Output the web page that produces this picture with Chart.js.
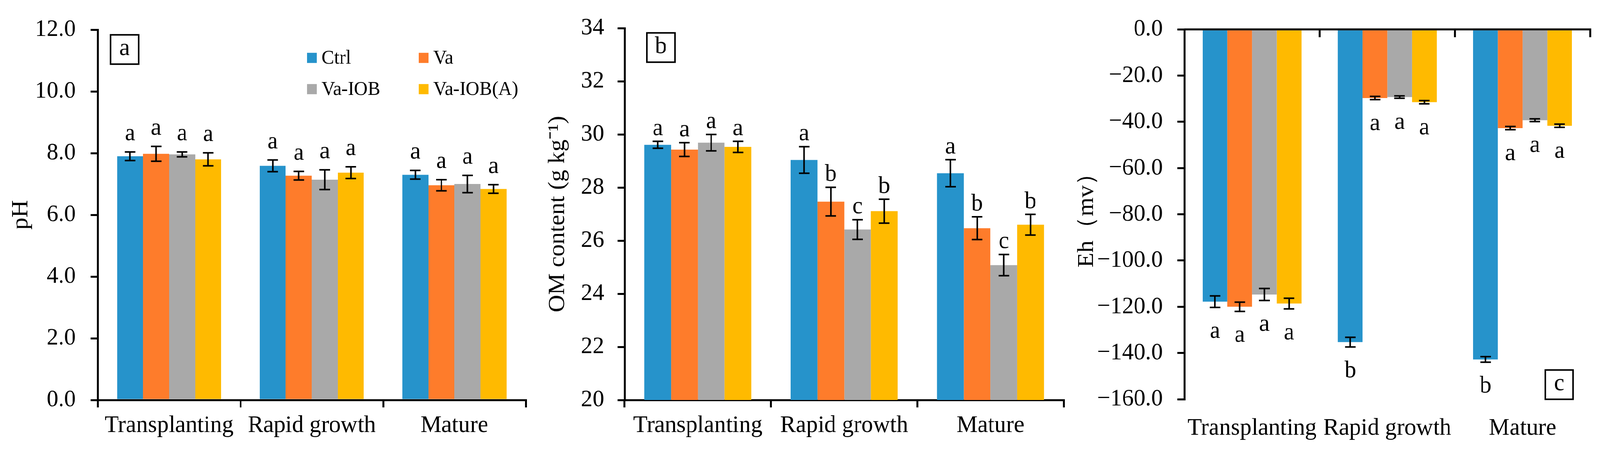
<!DOCTYPE html>
<html>
<head>
<meta charset="utf-8">
<script src="https://cdn.jsdelivr.net/npm/chart.js@4.4.1/dist/chart.umd.min.js"></script>
<style>
  html, body { margin: 0; padding: 0; background: #fff; overflow: hidden; }
  #wrap { position: relative; width: 4239px; height: 1152px; overflow: hidden; transform-origin: 0 0; }
  .panel { position: absolute; top: 0; height: 1152px; }
</style>
</head>
<body>
<div id="wrap">
  <div class="panel" style="left:0;width:1420px"><canvas id="phChart"></canvas></div>
  <div class="panel" style="left:1420px;width:1420px"><canvas id="omChart"></canvas></div>
  <div class="panel" style="left:2840px;width:1399px"><canvas id="ehChart"></canvas></div>
</div>
<script>
// ---- data (rows = treatment, columns = stage) ----
const stages     = ['Transplanting', 'Rapid growth', 'Mature'];
const treatments = ['Ctrl', 'Va', 'Va-IOB', 'Va-IOB(A)'];
const colors     = ['#2693CB', '#FE7C2B', '#A9A9A9', '#FFBA00'];

const phMean = [[7.90, 7.59, 7.30], [7.98, 7.27, 6.96], [7.96, 7.14, 7.00], [7.80, 7.37, 6.84]];
const phErr  = [[0.14, 0.19, 0.14], [0.24, 0.14, 0.18], [0.08, 0.32, 0.28], [0.21, 0.19, 0.14]];
const phSig  = [['a', 'a', 'a'], ['a', 'a', 'a'], ['a', 'a', 'a'], ['a', 'a', 'a']];
const phTicks = [0, 2, 4, 6, 8, 10, 12];

const omMean = [[29.61, 29.04, 28.54], [29.43, 27.47, 26.47], [29.69, 26.42, 25.08], [29.53, 27.11, 26.60]];
const omErr  = [[0.13, 0.50, 0.51], [0.26, 0.54, 0.43], [0.31, 0.37, 0.40], [0.21, 0.45, 0.39]];
const omSig  = [['a', 'a', 'a'], ['a', 'b', 'b'], ['a', 'c', 'c'], ['a', 'b', 'b']];
const omTicks = [20, 22, 24, 26, 28, 30, 32, 34];

const ehMean = [[-117.8, -135.3, -142.8], [-120.0, -29.7, -42.7], [-114.7, -29.3, -39.3], [-118.6, -31.5, -41.7]];
const ehErr  = [[2.5, 2.1, 1.2], [2.0, 0.7, 0.7], [2.6, 0.5, 0.6], [2.3, 0.7, 0.7]];
const ehSig  = [['a', 'b', 'b'], ['a', 'a', 'a'], ['a', 'a', 'a'], ['a', 'a', 'a']];
const ehTicks = [-160, -140, -120, -100, -80, -60, -40, -20, 0];

// the window can be narrower than 4239px; stretch the layout to fill it
const sx = window.innerWidth / 4239, sy = window.innerHeight / 1152;
document.getElementById('wrap').style.transform = 'scale(' + sx + ',' + sy + ')';

const FONT = '"Liberation Serif", "Times New Roman", serif';
Chart.defaults.font.family = FONT;
Chart.defaults.font.size = 62;
Chart.defaults.color = '#000';

// error bars + significance letters
const errBarPlugin = {
  id: 'errBars',
  afterDatasetsDraw(chart, args, opts) {
    const {ctx} = chart;
    const y = chart.scales.y;
    ctx.save();
    ctx.strokeStyle = '#000';
    ctx.lineWidth = 4;
    ctx.fillStyle = '#000';
    ctx.font = '62px ' + FONT;
    ctx.textAlign = 'center';
    ctx.textBaseline = 'alphabetic';
    chart.data.datasets.forEach((ds, i) => {
      chart.getDatasetMeta(i).data.forEach((bar, j) => {
        const v = ds.data[j], e = opts.errors[i][j];
        const yHi = y.getPixelForValue(v + e), yLo = y.getPixelForValue(v - e);
        ctx.beginPath();
        ctx.moveTo(bar.x, yHi); ctx.lineTo(bar.x, yLo);
        ctx.moveTo(bar.x - 14, yHi); ctx.lineTo(bar.x + 14, yHi);
        ctx.moveTo(bar.x - 14, yLo); ctx.lineTo(bar.x + 14, yLo);
        ctx.stroke();
        const ty = opts.below ? yLo + opts.gap : yHi - opts.gap;
        ctx.fillText(opts.letters[i][j], bar.x, ty);
      });
    });
    ctx.restore();
  }
};

// boxed panel tag
const tagPlugin = {
  id: 'tag',
  afterDraw(chart, args, opts) {
    const {ctx, chartArea} = chart;
    const x = chartArea.left + opts.dx, yy = chartArea.top + opts.dy;
    ctx.save();
    ctx.lineWidth = 4;
    ctx.strokeStyle = '#000';
    ctx.strokeRect(x, yy, 74, 75);
    ctx.fillStyle = '#000';
    ctx.font = '62px ' + FONT;
    ctx.textAlign = 'center';
    ctx.textBaseline = 'middle';
    ctx.fillText(opts.text, x + 37, yy + 36);
    ctx.restore();
  }
};

// two-column legend inside panel a
const legendGridPlugin = {
  id: 'legendGrid',
  afterDraw(chart, args, opts) {
    if (!opts.show) return;
    const {ctx, chartArea} = chart;
    ctx.save();
    ctx.font = '50px ' + FONT;
    ctx.textBaseline = 'middle';
    ctx.textAlign = 'left';
    chart.data.datasets.forEach((ds, i) => {
      const x = chartArea.left + opts.cols[i % 2];
      const yy = chartArea.top + opts.rows[Math.floor(i / 2)];
      ctx.fillStyle = ds.backgroundColor;
      ctx.fillRect(x, yy - 13, 26, 26);
      ctx.fillStyle = '#000';
      ctx.fillText(ds.label, x + 39, yy + 2);
    });
    ctx.restore();
  }
};

// zero line with inward ticks (panel c)
const zeroAxisPlugin = {
  id: 'zeroAxis',
  afterDraw(chart, args, opts) {
    if (!opts.show) return;
    const {ctx, chartArea} = chart;
    const x = chart.scales.x, y = chart.scales.y;
    const y0 = y.getPixelForValue(0);
    const w = x.getPixelForValue(1) - x.getPixelForValue(0);
    ctx.save();
    ctx.strokeStyle = '#000';
    ctx.lineWidth = 5;
    ctx.beginPath();
    ctx.moveTo(chartArea.left, y0); ctx.lineTo(chartArea.right + 2.5, y0);
    for (let k = 1; k <= stages.length; k++) {
      const bx = x.getPixelForValue(0) - w / 2 + k * w;
      ctx.moveTo(bx, y0); ctx.lineTo(bx, y0 + 20);
    }
    ctx.stroke();
    ctx.restore();
  }
};

function makeChart(id, cfg) {
  const datasets = treatments.map((t, i) => ({
    label: t,
    data: cfg.mean[i],
    backgroundColor: colors[i],
    borderWidth: 0,
    categoryPercentage: 0.73,
    barPercentage: 1.0
  }));
  const axisLine = {display: true, width: 5, color: '#000'};
  new Chart(document.getElementById(id), {
    type: 'bar',
    data: {labels: stages, datasets},
    plugins: [errBarPlugin, tagPlugin, legendGridPlugin, zeroAxisPlugin],
    options: {
      responsive: true,
      maintainAspectRatio: false,
      animation: false,
      devicePixelRatio: 1,
      layout: {padding: {top: cfg.top, right: cfg.right, bottom: 0, left: 0}},
      plugins: {
        legend: {display: false},
        tooltip: {enabled: false},
        errBars: {errors: cfg.err, letters: cfg.sig, gap: cfg.gap, below: cfg.below},
        tag: {text: cfg.tag, dx: cfg.tagX, dy: cfg.tagY},
        legendGrid: {show: cfg.legend, cols: [554, 850], rows: [72, 152]},
        zeroAxis: {show: cfg.below}
      },
      scales: {
        x: {
          border: cfg.below ? {display: false} : axisLine,
          grid: cfg.below ? {display: false}
                          : {display: true, drawOnChartArea: false, offset: true, tickLength: 19, lineWidth: 5, color: '#000'},
          ticks: {padding: cfg.below ? 30 : 10, maxRotation: 0, autoSkip: false},
          afterFit: s => { s.height = cfg.xh; }
        },
        y: {
          min: cfg.ticks[0],
          max: cfg.ticks[cfg.ticks.length - 1],
          border: axisLine,
          grid: {display: true, drawOnChartArea: false, tickLength: 19, lineWidth: 5, color: '#000'},
          afterBuildTicks: s => { s.ticks = cfg.ticks.map(v => ({value: v})); },
          ticks: {padding: cfg.tickPad, callback: cfg.fmt},
          title: {display: true, text: cfg.title, font: {size: 62}, padding: {top: cfg.titlePad, bottom: 0}},
          afterFit: s => { s.width = cfg.yw; }
        }
      }
    }
  });
}

makeChart('phChart', {
  mean: phMean, err: phErr, sig: phSig, ticks: phTicks,
  fmt: v => Number(v).toFixed(1), title: 'pH',
  top: 48, right: 27, xh: 128, yw: 259, tickPad: 39, titlePad: 19,
  gap: 30, below: false, tag: 'a', tagX: 34, tagY: 13, legend: true
});

makeChart('omChart', {
  mean: omMean, err: omErr, sig: omSig, ticks: omTicks,
  fmt: v => String(v), title: 'OM content (g kg\u207B\u00B9)',
  top: 50, right: 22, xh: 128, yw: 235, tickPad: 35, titlePad: 21,
  gap: 16, below: false, tag: 'b', tagX: 59, tagY: 12, legend: false
});

makeChart('ehChart', {
  mean: ehMean, err: ehErr, sig: ehSig, ticks: ehTicks,
  fmt: v => (v < 0 ? '\u2212' : '') + Math.abs(v).toFixed(1), title: 'Eh\uFF08mv\uFF09',
  top: 62, right: 26, xh: 130, yw: 298, tickPad: 38, titlePad: 3,
  gap: 78, below: true, tag: 'c', tagX: 956, tagY: 872, legend: false
});
</script>
</body>
</html>
